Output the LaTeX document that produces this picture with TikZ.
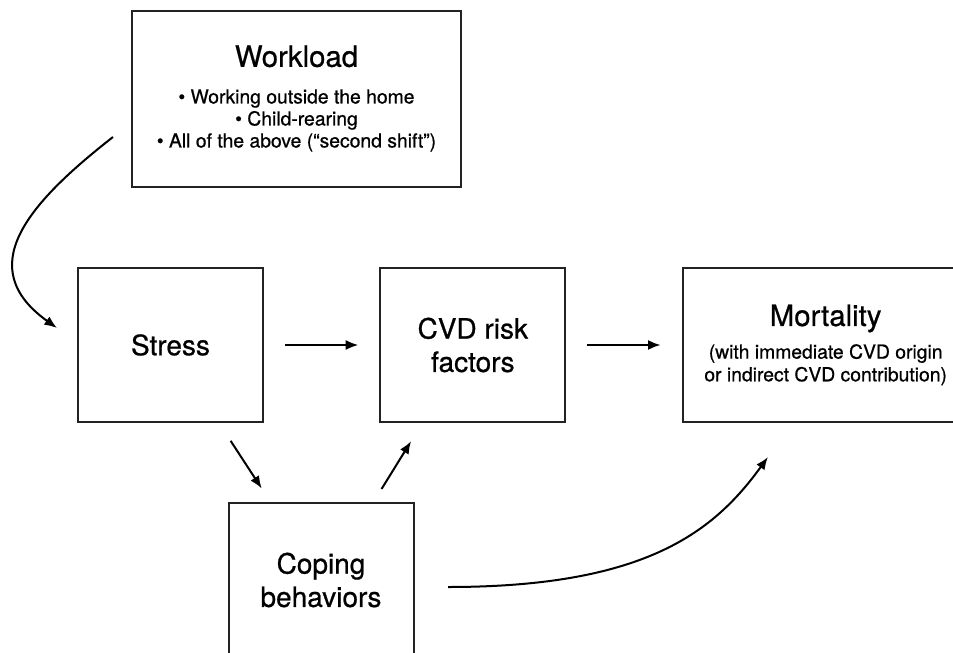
\documentclass[tikz,border=0pt]{standalone}
\usepackage{fontspec}
\setmainfont{TeX Gyre Heros}[FakeBold=0.7]
\usetikzlibrary{positioning,arrows.meta}
\definecolor{LineGray}{HTML}{222222}

\begin{document}
\begin{tikzpicture}[x=.75pt,y=-.75pt,node distance=86.5pt,>={Latex[length=9.5pt,width=7.5pt]}]
      \tikzstyle{box}=[draw=LineGray,line width=1.5pt,align=center,inner sep=0pt,minimum width=138.75pt,minimum height=115.5pt,font=\fontsize{21}{25}\selectfont]
      \tikzstyle{link}=[->,line width=1.5pt,draw=black]
      \tikzstyle{gap}=[shorten <=15.75pt,shorten >=15.75pt]
      \useasboundingbox (0,0) rectangle (953,653);
      \node[box] (st) at (170.5,345) {Stress};
      \node[box,right=of st] (cvd) {CVD risk\\factors};
      \node[box,right=of cvd,minimum width=214.5pt,font=\fontsize{14.5}{17}\selectfont] (mort) {{\fontsize{22}{26}\selectfont Mortality}\\[7.5pt](with immediate CVD origin\\or indirect CVD contribution)};
      \node[box,minimum width=246.75pt,minimum height=132pt,font=\fontsize{14.5}{16.5}\selectfont] (wl) at (296.5,98.5) {{\fontsize{22}{26}\selectfont Workload}\\[11pt]• Working outside the home\\• Child-rearing\\• All of the above (“second shift”)};
      \node[box] (cop) at (321,580) {Coping\\behaviors};
      \coordinate (wlout) at (113,137);
      \coordinate (stin) at (57,328);
      \coordinate (copout) at (448,587);
      \coordinate (mortin) at (768,457);
      \draw[link] (wlout) .. controls (26,205) and (-27,268) .. (stin);
      \draw[link,gap] (st) -- (cvd);
      \draw[link,gap] (cvd) -- (mort);
      \draw[link,shorten <=16pt,shorten >=12pt] ([xshift=-33.75pt]st.south east) -- ([xshift=32.25pt]cop.north west);
      \draw[link,shorten <=11.5pt,shorten >=16pt] ([xshift=-30.75pt]cop.north east) -- ([xshift=32.25pt]cvd.south west);
      \draw[link] (copout) .. controls (648,587) and (715,530) .. (mortin);
    \end{tikzpicture}
\end{document}
